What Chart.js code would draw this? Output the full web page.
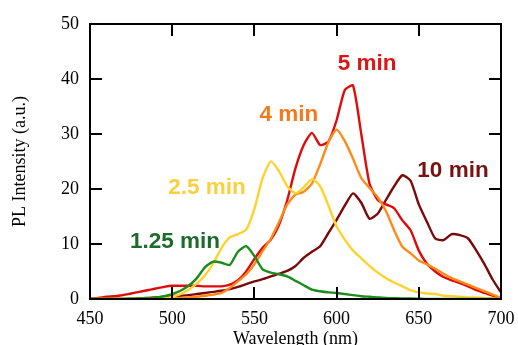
<!DOCTYPE html>
<html><head><meta charset="utf-8">
<script src="https://cdn.jsdelivr.net/npm/chart.js@4"></script>
<style>html,body{margin:0;padding:0;background:#fff;overflow:hidden;}</style>
</head><body>
<canvas id="c" width="518" height="345"></canvas>
<script>
// ---- DATA ----
const wavelengths = [450,455,460,465,470,475,480,485,490,495,500,505,510,515,520,525,530,535,540,545,550,555,560,565,570,575,580,585,590,595,600,605,610,615,620,625,630,635,640,645,650,655,660,665,670,675,680,685,690,695,700];
const min125 = [0,0,0,0,0,0.05,0.1,0.15,0.25,0.5,0.9,1.5,2.4,3.8,5.8,6.8,6.6,6.2,8.6,9.6,7.8,5.4,4.8,4.5,4.1,3.3,2.5,1.7,1.4,1.2,1.1,0.9,0.7,0.5,0.4,0.3,0.2,0.15,0.1,0.1,0.05,0,0,0,0,0,0,0,0,0,0];
const min25 = [0,0,0,0,0,0,0,0,0.1,0.2,0.4,0.9,1.7,2.8,4.3,6.5,9.3,11.2,11.8,12.6,16.4,22.0,25.0,23.2,20.5,19.2,20.3,21.8,20.5,17.0,13.2,10.8,8.8,7.4,6.0,4.8,3.8,3.0,2.3,1.6,1.2,1.0,0.9,0.6,0.5,0.4,0.3,0.25,0.2,0.1,0];
const min4 = [0,0,0,0,0,0,0,0,0,0,0.1,0.2,0.3,0.4,0.6,0.8,1.1,2.0,3.2,4.5,6.3,8.7,11.0,14.0,17.2,19.0,19.5,21.0,24.5,28.5,30.8,28.7,25.5,22.0,20.2,18.5,16.0,12.5,9.5,8.3,7.0,6.3,5.5,4.6,3.8,3.2,2.6,2.0,1.4,0.8,0.2];
const min5 = [0.1,0.2,0.4,0.5,0.7,1.0,1.3,1.6,1.9,2.2,2.4,2.4,2.4,2.4,2.3,2.3,2.3,2.6,3.4,5.0,7.3,9.3,10.8,13.5,18.0,23.8,28.0,30.2,28.0,28.6,32.5,38.0,38.8,30.0,21.0,18.0,17.2,16.5,14.3,12.5,8.8,6.4,5.0,4.0,3.4,2.9,2.3,1.6,1.1,0.6,0.1];
const min10 = [0,0,0,0,0,0.05,0.1,0.2,0.3,0.4,0.5,0.6,0.7,0.9,1.1,1.3,1.5,1.8,2.2,2.7,3.2,3.6,4.1,4.6,5.1,6.0,7.5,8.6,9.6,12.0,14.4,17.0,19.2,17.5,14.6,15.5,18.0,20.5,22.5,21.5,17.2,14.0,11.0,10.7,11.8,11.6,11.0,8.8,6.3,3.5,1.2];
const seriesNames = ['1.25 min','2.5 min','4 min','5 min','10 min'];
const seriesValues = [min125, min25, min4, min5, min10];
const xTicks = [450,500,550,600,650,700];
const yTicks = [0,10,20,30,40,50];

// ---- STYLE ----
const lineColors = ['#1c8c1c','#ffd22e','#ff8a1a','#e00a0a','#7a0a0a'];
const labelColors = ['#1d6b2b','#f8d040','#f57a1e','#e01414','#7a1010'];
// label anchors in data coordinates (wavelength, intensity)
const labelAnchors = [[501.7,10.45],[521.2,20.3],[571,33.5],[618.5,42.7],[670.8,23.4]];

const serif = 'Liberation Serif, Times New Roman, serif';

const framePlugin = {
  id: 'frame',
  afterDatasetsDraw(chart) {
    const {ctx, chartArea: a, scales: {x, y}} = chart;
    ctx.save();
    ctx.strokeStyle = '#000';
    ctx.lineWidth = 2;
    ctx.strokeRect(a.left, a.top, a.right - a.left, a.bottom - a.top);
    const tl = 12;
    ctx.beginPath();
    xTicks.forEach(v => {
      const px = Math.round(x.getPixelForValue(v));
      ctx.moveTo(px, a.bottom); ctx.lineTo(px, a.bottom - tl);
      ctx.moveTo(px, a.top); ctx.lineTo(px, a.top + tl);
    });
    yTicks.forEach(v => {
      const py = Math.round(y.getPixelForValue(v));
      ctx.moveTo(a.left, py); ctx.lineTo(a.left + tl, py);
      ctx.moveTo(a.right, py); ctx.lineTo(a.right - tl, py);
    });
    ctx.stroke();
    ctx.font = 'bold 22.5px "Liberation Sans", Arial, sans-serif';
    ctx.textAlign = 'center';
    ctx.textBaseline = 'middle';
    seriesNames.forEach((n, i) => {
      ctx.fillStyle = labelColors[i];
      ctx.fillText(n, x.getPixelForValue(labelAnchors[i][0]), y.getPixelForValue(labelAnchors[i][1]));
    });
    ctx.restore();
  }
};

new Chart(document.getElementById('c'), {
  type: 'line',
  data: {
    datasets: seriesNames.map((n, i) => ({
      label: n,
      data: wavelengths.map((w, j) => ({x: w, y: seriesValues[i][j]})),
      borderColor: lineColors[i],
      backgroundColor: lineColors[i],
      borderWidth: 2.4,
      pointRadius: 0,
      tension: 0.2,
      fill: false
    }))
  },
  options: {
    responsive: false,
    animation: false,
    layout: {padding: {top: 24, right: 17, left: 0, bottom: 0}},
    plugins: {legend: {display: false}, tooltip: {enabled: false}},
    scales: {
      x: {
        type: 'linear', min: 450, max: 700,
        afterBuildTicks(s) { s.ticks = xTicks.map(v => ({value: v})); },
        ticks: {color: '#000', font: {family: serif, size: 18}, padding: 9, maxRotation: 0},
        grid: {display: false, drawTicks: false},
        border: {display: false},
        title: {display: true, text: 'Wavelength (nm)', color: '#000', font: {family: serif, size: 18, lineHeight: 0.6}, padding: {top: 0, bottom: 0}},
        afterFit(s) { s.height = 46; s.paddingLeft = 0; s.paddingRight = 0; }
      },
      y: {
        type: 'linear', min: 0, max: 50,
        afterBuildTicks(s) { s.ticks = yTicks.map(v => ({value: v})); },
        ticks: {color: '#000', font: {family: serif, size: 18}, padding: 11},
        grid: {display: false, drawTicks: false},
        border: {display: false},
        title: {display: true, text: 'PL Intensity (a.u.)', color: '#000', font: {family: serif, size: 18}, padding: {top: 9, bottom: 0}},
        afterFit(s) { s.width = 90; s.paddingTop = 0; s.paddingBottom = 0; }
      }
    }
  },
  plugins: [framePlugin]
});
</script>
</body></html>
